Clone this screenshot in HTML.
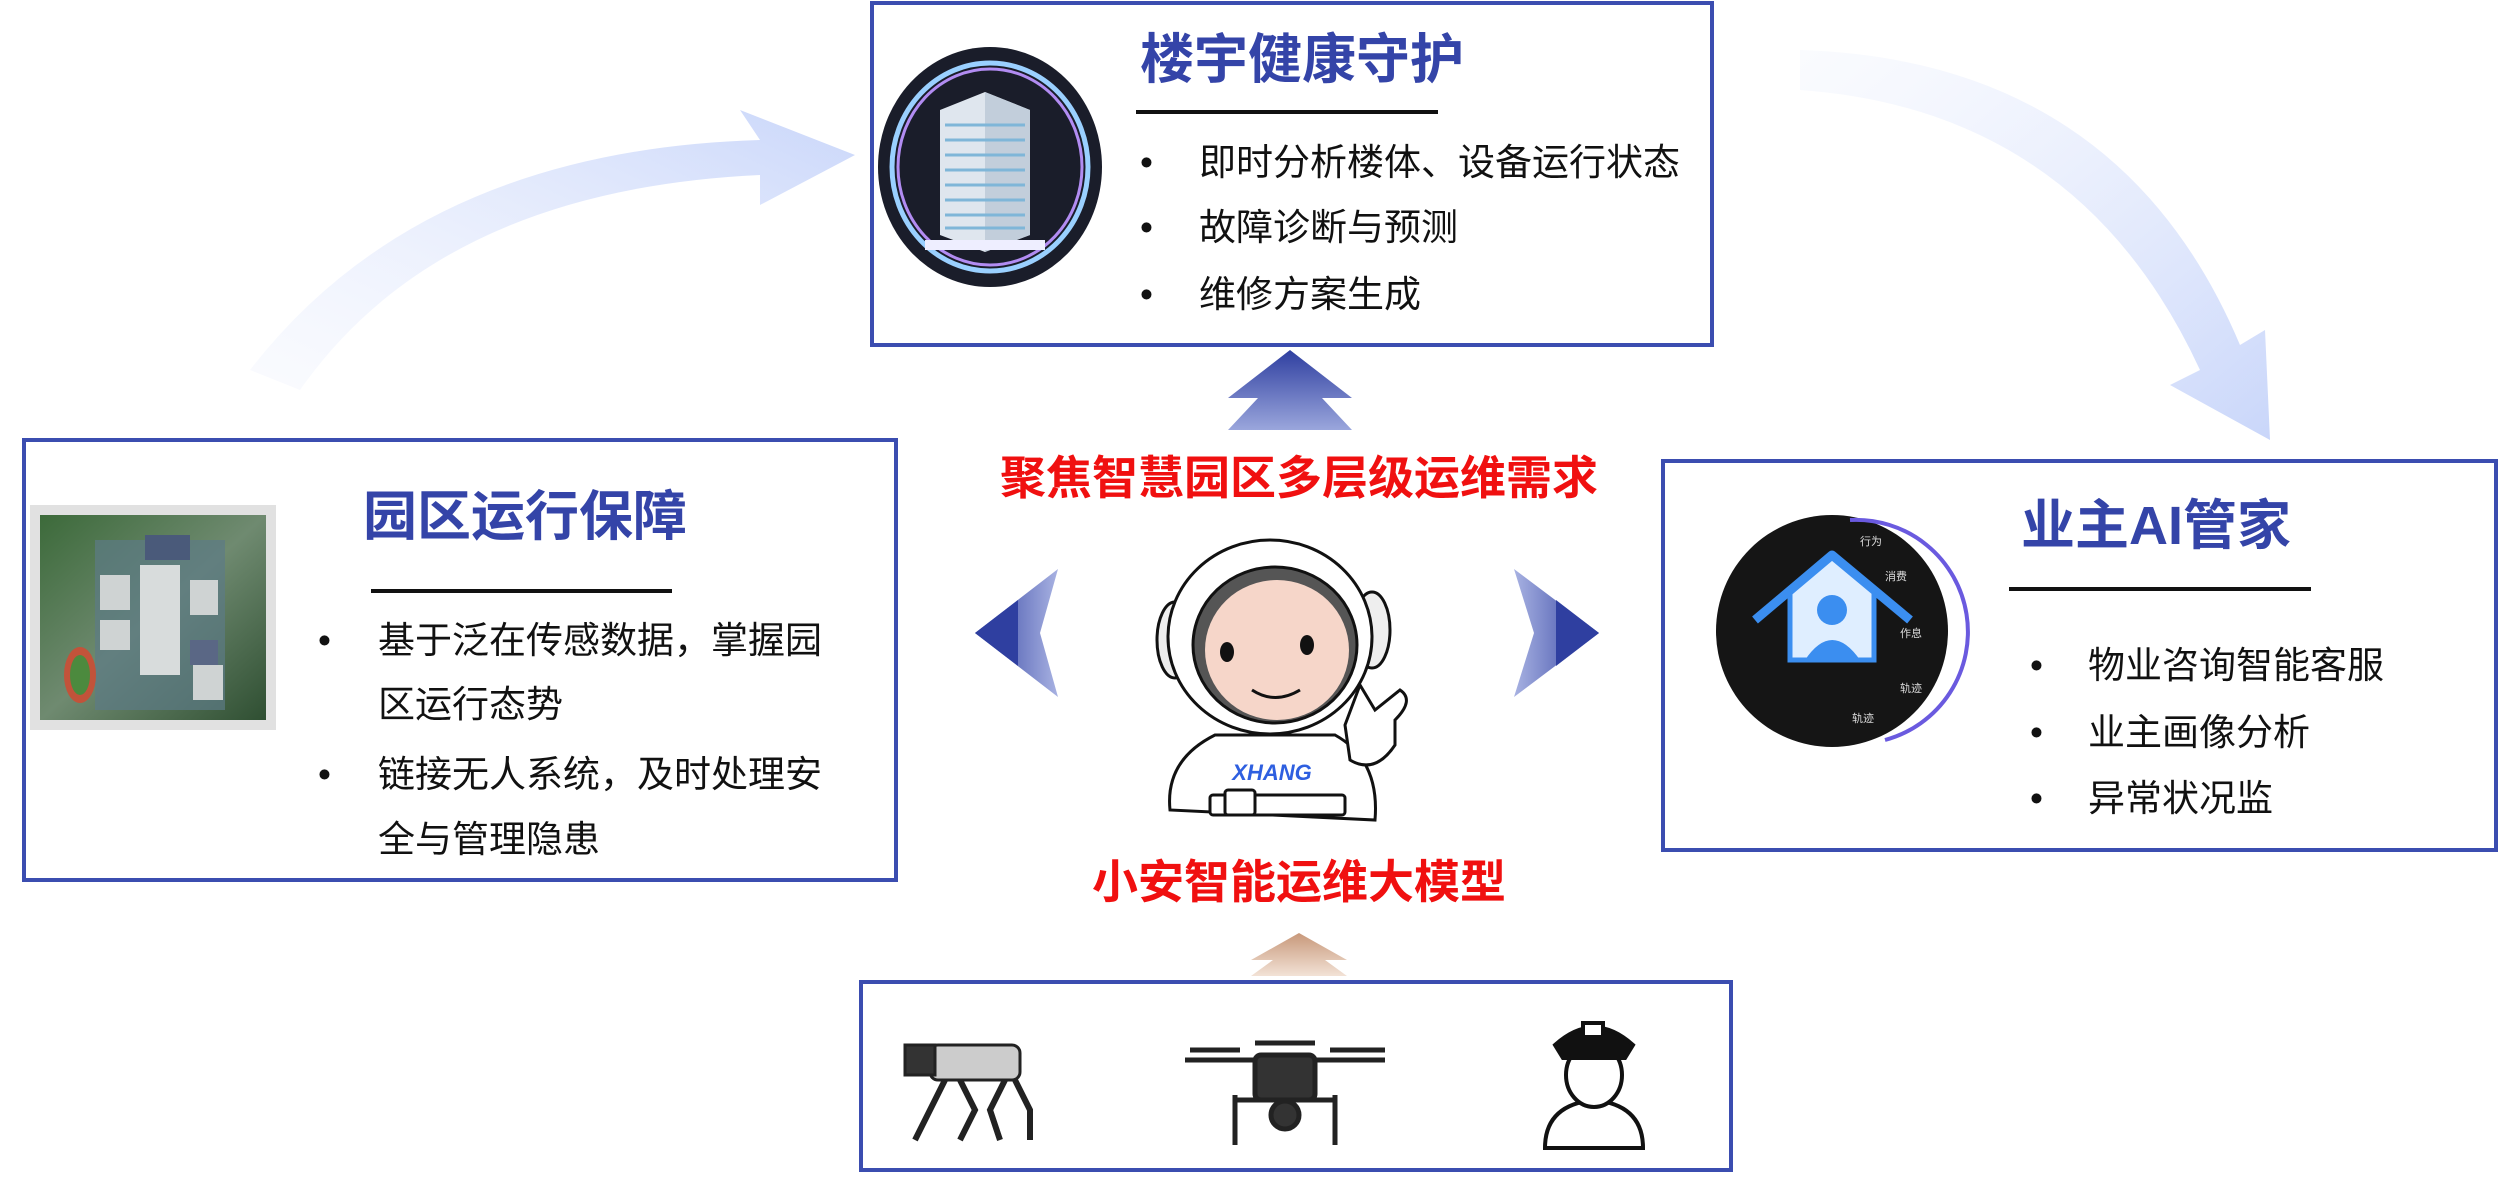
<!DOCTYPE html>
<html><head><meta charset="utf-8"><style>
html,body{margin:0;padding:0;background:#fff;}
svg{display:block;}
text{font-family:"Liberation Sans","Noto Sans CJK SC",sans-serif;}
</style></head><body>
<svg width="2500" height="1194" viewBox="0 0 2500 1194" xmlns="http://www.w3.org/2000/svg">
<defs>
<linearGradient id="arcL" x1="0" y1="1" x2="1" y2="0"><stop offset="0" stop-color="#eef2fd" stop-opacity="0.3"/><stop offset="1" stop-color="#c9d6fa"/></linearGradient>
<linearGradient id="arcR" x1="0" y1="0" x2="1" y2="1"><stop offset="0" stop-color="#eef2fd" stop-opacity="0.3"/><stop offset="1" stop-color="#c9d6fa"/></linearGradient>
<linearGradient id="upB" x1="0" y1="0" x2="0" y2="1"><stop offset="0" stop-color="#2f3fa0"/><stop offset="1" stop-color="#9aa6dc"/></linearGradient>
<linearGradient id="upBr" x1="0" y1="0" x2="0" y2="1"><stop offset="0" stop-color="#c8987a"/><stop offset="1" stop-color="#f2e2d6"/></linearGradient>
<linearGradient id="lfB" x1="0" y1="0" x2="1" y2="0"><stop offset="0" stop-color="#2f3fa0"/><stop offset="1" stop-color="#a8b2e2"/></linearGradient>
<linearGradient id="rtB" x1="1" y1="0" x2="0" y2="0"><stop offset="0" stop-color="#2f3fa0"/><stop offset="1" stop-color="#a8b2e2"/></linearGradient>
<linearGradient id="park" x1="0" y1="0" x2="1" y2="1"><stop offset="0" stop-color="#3c6a3a"/><stop offset="0.5" stop-color="#6f8a70"/><stop offset="1" stop-color="#2f4f32"/></linearGradient>
</defs>

<path d="M250 370 Q420 150 760 140 L740 110 L855 155 L760 205 L760 175 Q440 190 300 390 Z" fill="url(#arcL)"/>
<path d="M1800 50 Q2120 60 2240 345 L2265 330 L2270 440 L2170 385 L2200 370 Q2080 110 1800 90 Z" fill="url(#arcR)"/>

<rect x="872" y="3" width="840" height="342" fill="#fff" stroke="#3b4db0" stroke-width="4"/>
<ellipse cx="990" cy="167" rx="112" ry="120" fill="#1a1d2a"/>
<ellipse cx="990" cy="167" rx="98" ry="104" fill="none" stroke="#9ad0ff" stroke-width="5"/>
<ellipse cx="990" cy="167" rx="92" ry="98" fill="none" stroke="#b28cf2" stroke-width="3"/>
<g>
<polygon points="940,110 985,92 1030,110 1030,235 985,252 940,235" fill="#dfe6ee"/>
<polygon points="985,92 1030,110 1030,235 985,252" fill="#c2cedb"/>
<g stroke="#7fb6d8" stroke-width="3">
<line x1="945" y1="125" x2="1025" y2="125"/><line x1="945" y1="140" x2="1025" y2="140"/><line x1="945" y1="155" x2="1025" y2="155"/><line x1="945" y1="170" x2="1025" y2="170"/><line x1="945" y1="185" x2="1025" y2="185"/><line x1="945" y1="200" x2="1025" y2="200"/><line x1="945" y1="215" x2="1025" y2="215"/><line x1="945" y1="228" x2="1025" y2="228"/>
</g>
<polygon points="925,240 1045,240 1045,250 925,250" fill="#eef"/>
</g>
<text x="1140" y="78" font-size="54" font-weight="bold" fill="#3444a8">楼宇健康守护</text>
<line x1="1136" y1="112" x2="1438" y2="112" stroke="#111" stroke-width="4"/>
<g font-size="37" fill="#111">
<text x="1140" y="175">•</text><text x="1199" y="175">即时分析楼体、设备运行状态</text>
<text x="1140" y="240">•</text><text x="1199" y="240">故障诊断与预测</text>
<text x="1140" y="307">•</text><text x="1199" y="307">维修方案生成</text>
</g>

<polygon points="1290,350 1352,398 1322,398 1352,430 1228,430 1258,398 1228,398" fill="url(#upB)"/>

<text x="1299" y="494" font-size="46" font-weight="bold" fill="#f01010" text-anchor="middle">聚焦智慧园区多层级运维需求</text>

<rect x="24" y="440" width="872" height="440" fill="#fff" stroke="#3b4db0" stroke-width="4"/>
<rect x="30" y="505" width="246" height="225" fill="#888" opacity="0.25"/>
<rect x="40" y="515" width="226" height="205" fill="url(#park)"/>
<rect x="95" y="540" width="130" height="170" fill="#5d7b86" opacity="0.7"/>
<rect x="140" y="565" width="40" height="110" fill="#d8dcdc"/>
<rect x="100" y="575" width="30" height="35" fill="#cfd3d3"/><rect x="100" y="620" width="30" height="30" fill="#cfd3d3"/>
<rect x="190" y="580" width="28" height="35" fill="#cfd3d3"/><rect x="190" y="640" width="28" height="25" fill="#5a6785"/>
<rect x="145" y="535" width="45" height="25" fill="#4a5a7a"/>
<ellipse cx="80" cy="675" rx="16" ry="28" fill="#c2533a"/><ellipse cx="80" cy="675" rx="10" ry="20" fill="#4c8a3e"/>
<rect x="193" y="665" width="30" height="35" fill="#cfd3d3"/>
<text x="363" y="535" font-size="54" font-weight="bold" fill="#3444a8">园区运行保障</text>
<line x1="371" y1="591" x2="672" y2="591" stroke="#111" stroke-width="4"/>
<g font-size="37" fill="#111">
<text x="318" y="653">•</text><text x="378" y="653">基于泛在传感数据，掌握园</text>
<text x="378" y="717">区运行态势</text>
<text x="318" y="787">•</text><text x="378" y="787">链接无人系统，及时处理安</text>
<text x="378" y="852">全与管理隐患</text>
</g>

<polygon points="975,633 1058,569 1040,633 1058,697" fill="url(#lfB)"/>
<polygon points="1599,633 1514,569 1534,633 1514,697" fill="url(#rtB)"/>
<polygon points="1599,633 1556,600 1556,666" fill="#2f3fa0"/>
<polygon points="975,633 1018,600 1018,666" fill="#2f3fa0"/>

<g stroke="#111" stroke-width="3" fill="#fff">
<path d="M1170 810 Q1165 760 1215 735 L1335 735 Q1380 760 1375 820 Z"/>
<ellipse cx="1175" cy="640" rx="18" ry="38" fill="#eee"/>
<ellipse cx="1372" cy="630" rx="18" ry="38" fill="#eee"/>
<ellipse cx="1270" cy="637" rx="102" ry="97"/>
<ellipse cx="1275" cy="645" rx="82" ry="78" fill="#555"/>
<ellipse cx="1277" cy="650" rx="72" ry="70" fill="#f6d6c9" stroke="none"/>
<path d="M1360 685 L1375 710 L1400 690 Q1415 700 1395 720 L1395 745 Q1375 775 1350 760 L1345 725 Z"/>
<rect x="1210" y="795" width="135" height="20" rx="3"/>
<rect x="1225" y="790" width="30" height="25" rx="3"/>
</g>
<ellipse cx="1227" cy="652" rx="7" ry="10" fill="#111"/>
<ellipse cx="1307" cy="645" rx="7" ry="10" fill="#111"/>
<path d="M1252 690 Q1275 705 1300 690" fill="none" stroke="#111" stroke-width="3"/>
<text x="1272" y="780" font-size="22" font-weight="bold" font-style="italic" fill="#2e5fe0" text-anchor="middle">XHANG</text>

<text x="1299" y="898" font-size="46" font-weight="bold" fill="#f01010" text-anchor="middle">小安智能运维大模型</text>

<polygon points="1299,933 1347,960 1325,960 1347,976 1251,976 1273,960 1251,960" fill="url(#upBr)"/>

<rect x="1663" y="461" width="833" height="389" fill="#fff" stroke="#3b4db0" stroke-width="4"/>
<circle cx="1832" cy="631" r="116" fill="#151515"/>
<path d="M1850 520 A112 112 0 0 1 1885 740" fill="none" stroke="#6a5adf" stroke-width="4"/>
<polygon points="1790,590 1832,555 1874,590 1874,660 1790,660" fill="#dfeeff" stroke="#3b8ef0" stroke-width="5"/>
<path d="M1755 620 L1832 555 L1910 620" fill="none" stroke="#3b8ef0" stroke-width="9" stroke-linejoin="round"/>
<circle cx="1832" cy="610" r="15" fill="#3b8ef0"/>
<path d="M1805 660 Q1832 620 1860 660 Z" fill="#3b8ef0"/>
<g font-size="11" fill="#ddd"><text x="1860" y="545">行为</text><text x="1885" y="580">消费</text><text x="1900" y="637">作息</text><text x="1900" y="692">轨迹</text><text x="1852" y="722">轨迹</text></g>
<text x="2021" y="544" font-size="54" font-weight="bold" fill="#3444a8">业主AI管家</text>
<line x1="2009" y1="589" x2="2311" y2="589" stroke="#111" stroke-width="4"/>
<g font-size="37" fill="#111">
<text x="2030" y="678">•</text><text x="2088" y="678">物业咨询智能客服</text>
<text x="2030" y="745">•</text><text x="2088" y="745">业主画像分析</text>
<text x="2030" y="811">•</text><text x="2088" y="811">异常状况监</text>
</g>

<rect x="861" y="982" width="870" height="188" fill="#fff" stroke="#3b4db0" stroke-width="4"/>
<g fill="#ccc" stroke="#222" stroke-width="3">
<rect x="930" y="1045" width="90" height="35" rx="8"/>
<rect x="905" y="1045" width="30" height="30" fill="#333"/>
<path d="M945 1080 L930 1110 L915 1140" fill="none" stroke-width="6"/>
<path d="M960 1080 L975 1110 L960 1140" fill="none" stroke-width="6"/>
<path d="M1005 1080 L990 1110 L1000 1140" fill="none" stroke-width="6"/>
<path d="M1015 1080 L1030 1110 L1030 1140" fill="none" stroke-width="6"/>
</g>
<g stroke="#222" stroke-width="5" fill="#333">
<line x1="1185" y1="1060" x2="1385" y2="1060"/>
<line x1="1190" y1="1050" x2="1240" y2="1050"/><line x1="1330" y1="1050" x2="1385" y2="1050"/>
<line x1="1255" y1="1043" x2="1315" y2="1043"/>
<rect x="1255" y="1055" width="60" height="45" rx="6"/>
<line x1="1235" y1="1095" x2="1235" y2="1145"/><line x1="1335" y1="1095" x2="1335" y2="1145"/>
<line x1="1235" y1="1100" x2="1335" y2="1100"/>
<circle cx="1285" cy="1115" r="14"/>
</g>
<g fill="#fff" stroke="#111" stroke-width="4">
<path d="M1545 1148 Q1545 1105 1594 1100 Q1643 1105 1643 1148 Z"/>
<ellipse cx="1594" cy="1075" rx="28" ry="32"/>
<path d="M1555 1045 Q1594 1010 1633 1045 L1625 1058 L1563 1058 Z" fill="#111"/>
<rect x="1583" y="1023" width="20" height="14" fill="#fff"/>
</g>
</svg>
</body></html>
